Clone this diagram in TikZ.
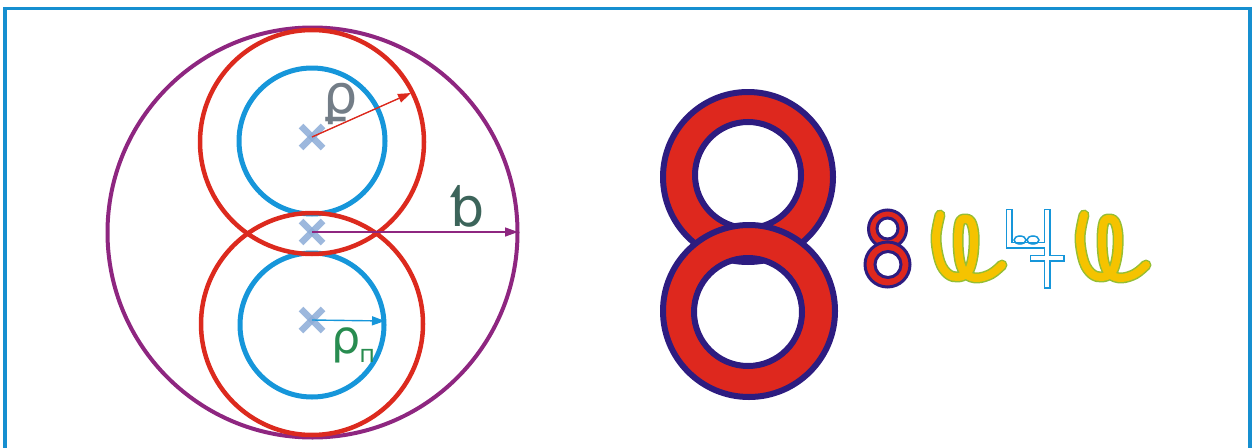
\documentclass[tikz,border=0pt]{standalone}
\usepackage{fontspec}
\newfontfamily\dejavu{DejaVu Sans}
\usetikzlibrary{arrows.meta}
\definecolor{frameblue}{RGB}{22,143,208}
\definecolor{ringpurple}{RGB}{142,38,128}
\definecolor{ringred}{RGB}{220,42,30}
\definecolor{ringblue}{RGB}{22,150,218}
\definecolor{crossblue}{RGB}{140,172,215}
\definecolor{eightnavy}{RGB}{45,28,128}
\definecolor{eightred}{RGB}{222,40,30}
\definecolor{glyphgreen}{RGB}{150,190,50}
\definecolor{glyphyellow}{RGB}{245,195,0}
\definecolor{labgray}{RGB}{115,125,135}
\definecolor{labteal}{RGB}{60,100,90}
\definecolor{labgreen}{RGB}{40,140,80}
\tikzset{
  frameline/.style={draw=frameblue,line width=3.5},
  purplering/.style={draw=ringpurple,line width=4},
  redring/.style={draw=ringred,line width=4.5},
  bluering/.style={draw=ringblue,line width=5},
  crossarm/.style={draw=crossblue,line width=6.5,opacity=0.85},
  radarrow/.style={line width=1.4,-{Triangle[length=13,width=9]}},
  lab/.style={inner sep=0pt,font=\dejavu\fontsize{54}{54}\selectfont},
  eightfill/.style={fill=eightred,even odd rule},
  eightline/.style={draw=eightnavy},
  aybouter/.style={draw=glyphgreen,line width=11,line cap=round,line join=round},
  aybinner/.style={draw=glyphyellow,line width=8,line cap=round,line join=round},
  hookouter/.style={draw=ringblue,line width=7,line cap=rect},
  hookinner/.style={draw=white,line width=4,line cap=rect},
  ayb/.pic={
    \draw[aybouter] plot[smooth,tension=0.6] coordinates {(10,5) (6,28) (10,52) (18,64) (28,67) (38,62) (43,46) (44,25) (41,12) (36,9) (30,12) (28,30) (30,52) (36,64) (47,68) (61,64) (72,55)};
    \draw[aybinner] plot[smooth,tension=0.6] coordinates {(10,5) (6,28) (10,52) (18,64) (28,67) (38,62) (43,46) (44,25) (41,12) (36,9) (30,12) (28,30) (30,52) (36,64) (47,68) (61,64) (72,55)};
  }
}
\begin{document}
\begin{tikzpicture}[x=1pt,y=-1pt]
\useasboundingbox (0,0) rectangle (1257,447);
% frame
\draw[frameline] (5,470) -- (5,8.5) -- (1250,8.5) -- (1250,470);

% circles
\coordinate (cU) at (312,137);
\coordinate (cM) at (312,232);
\coordinate (cL) at (312,320);
\draw[purplering] (312.5,232.5) circle (205);
\draw[bluering] (312,141) circle (73);
\draw[bluering] (312,325) circle (72);
\draw[redring] (312,142) circle (112);
\draw[redring] (312,324) circle (111);

% crosses
\foreach \c in {cU,cM,cL}{
  \draw[crossarm] ([shift={(-11,-11)}]\c) -- ([shift={(11,11)}]\c);
  \draw[crossarm] ([shift={(-11,11)}]\c) -- ([shift={(11,-11)}]\c);
}

% radii arrows
\coordinate (eU) at (411,93);
\coordinate (eM) at (518,232);
\coordinate (eL) at (385,321);
\draw[radarrow,ringred] (cU) -- (eU);
\draw[radarrow,ringpurple] (cM) -- (eM);
\draw[radarrow,ringblue] (cL) -- (eL);

% labels
\node[lab,text=labgray] (lU) at (341,104) {ϼ};
\node[lab,text=labteal] (lM) at (468,206) {ƅ};
\node[inner sep=0pt,text=labgreen,anchor=west,font=\dejavu\fontsize{46}{46}\selectfont] (lL) at (331,345) {ρ\kern-1pt\raisebox{-9pt}{\fontsize{24}{24}\selectfont п}};

% big 8
\fill[eightfill] (748,177) circle (85) (748,175) circle (53);
\draw[eightline,line width=6] (748,177) circle (85) (748,175) circle (53);
\fill[eightfill] (749,311) circle (86) (748,312) circle (54);
\draw[eightline,line width=6] (749,311) circle (86) (748,312) circle (54);

% small 8
\fill[eightfill] (887.5,229) circle (19) (887.5,228.5) circle (10.5);
\draw[eightline,line width=3] (887.5,229) circle (19) (887.5,228.5) circle (10.5);
\fill[eightfill] (887.5,264.5) circle (22.5) (888,264.5) circle (13);
\draw[eightline,line width=3] (887.5,264.5) circle (22.5) (888,264.5) circle (13);

% yellow glyphs
\pic at (930,210) {ayb};
\pic at (1074,210) {ayb};

% blue glyph
\draw[hookouter] (1009,212) -- (1009,245) -- (1046,245);
\draw[hookouter] (1047,212) -- (1047,285);
\draw[hookouter] (1033,258) -- (1061,258);
\draw[hookinner] (1009,212) -- (1009,245) -- (1046,245);
\draw[hookinner] (1047,212) -- (1047,285);
\draw[hookinner] (1033,258) -- (1061,258);
\draw[draw=ringblue,line width=1.5] (1020,240) ellipse (6 and 4) (1033,240) ellipse (6 and 4);
\end{tikzpicture}
\end{document}
